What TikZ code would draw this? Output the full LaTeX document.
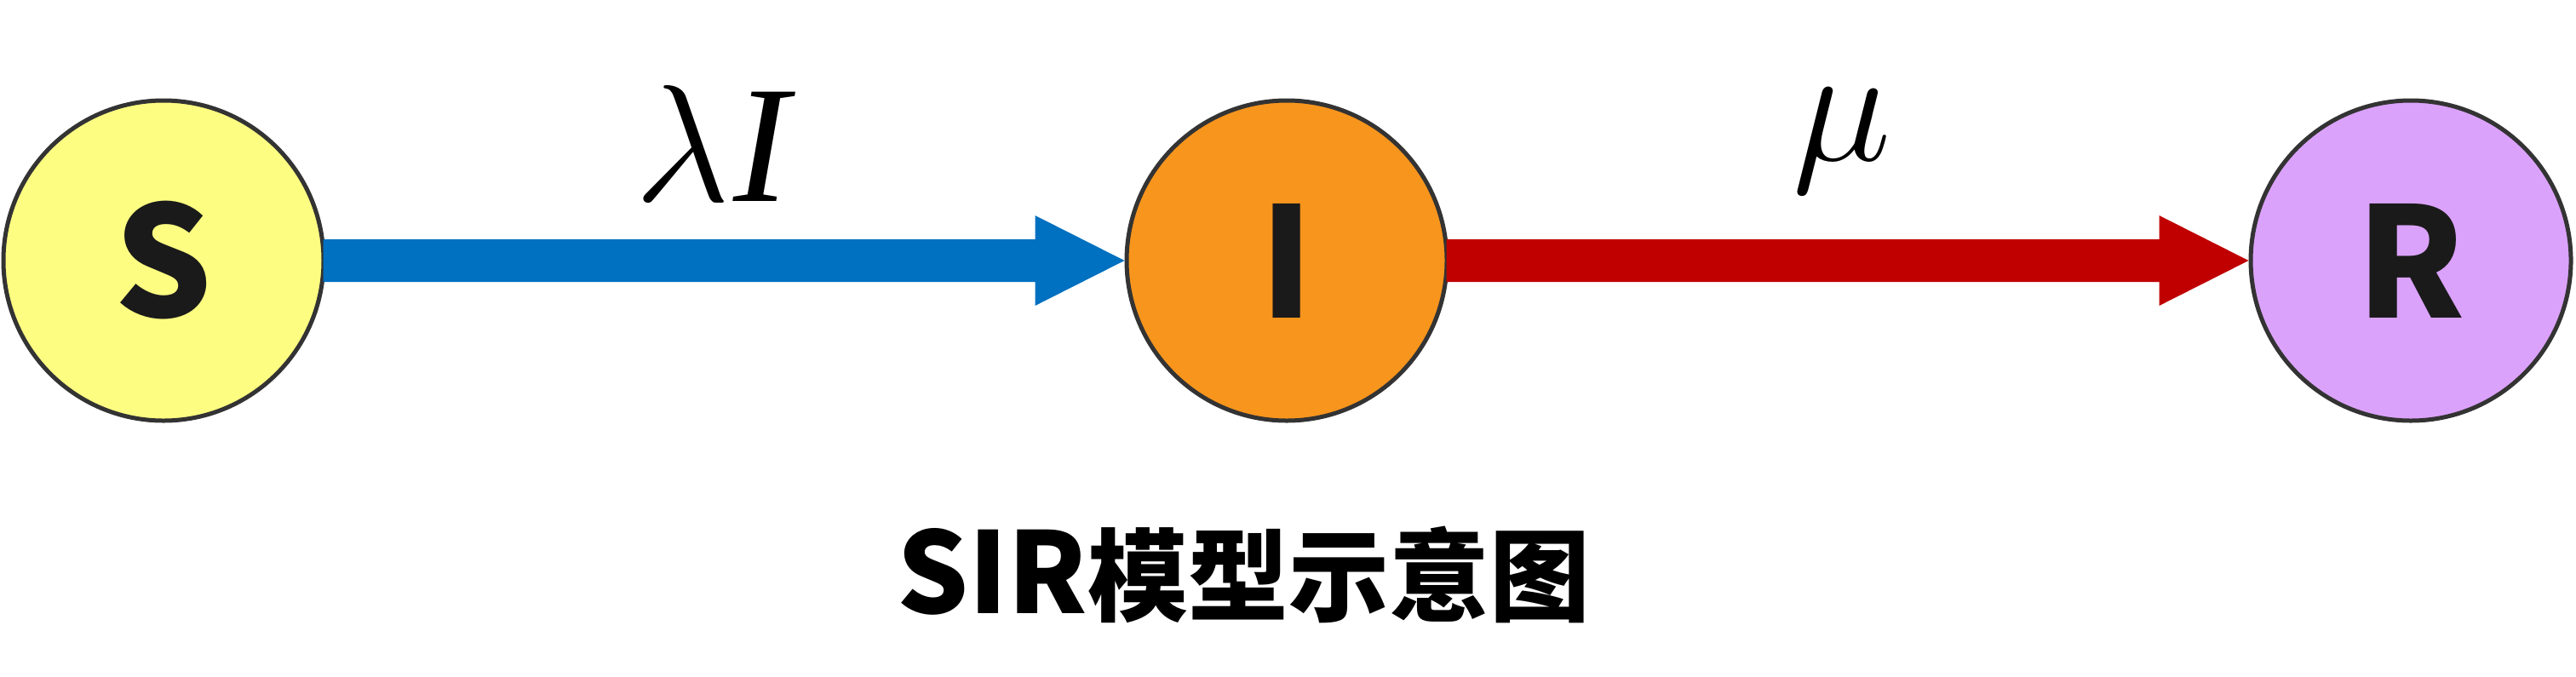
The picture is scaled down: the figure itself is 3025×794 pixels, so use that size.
\RequirePackage{fix-cm}
\documentclass[tikz,border=0pt]{standalone}
\usepackage{fontspec}
\setmainfont{Liberation Serif}
\newfontfamily\cjk{Noto Sans CJK SC}
\usetikzlibrary{calc}
\definecolor{sfill}{HTML}{FDFD82}
\definecolor{ifill}{HTML}{F8951D}
\definecolor{rfill}{HTML}{DBA2FB}
\definecolor{edgecol}{HTML}{333333}
\definecolor{arrowblue}{HTML}{0070C0}
\definecolor{arrowred}{HTML}{C00000}
\definecolor{lettercol}{HTML}{1A1A1A}
\tikzset{
  state/.style={circle, draw=edgecol, line width=1.25pt, minimum size=94pt, inner sep=0pt,
    text=lettercol, font=\cjk\bfseries\fontsize{45}{45}\selectfont},
  rate/.style={anchor=base, inner sep=0pt, font=\itshape\fontsize{49}{49}\selectfont},
}
\begin{document}
\begin{tikzpicture}[x=0.25pt,y=-0.25pt]
\useasboundingbox (0,0) rectangle (3025,794);
\node[state, fill=sfill] (S) at (192,306) {S};
\node[state, fill=ifill] (I) at (1511,306) {I};
\node[state, fill=rfill] (R) at (2831,306) {R};
\fill[arrowblue] ($(S.east)+(-3,-25)$) -- ($(I.west)+(-105,-25)$) -- ($(I.west)+(-105,-53)$) -- (I.west)
  -- ($(I.west)+(-105,53)$) -- ($(I.west)+(-105,25)$) -- ($(S.east)+(-3,25)$) -- cycle;
\fill[arrowred] ($(I.east)+(-3,-25)$) -- ($(R.west)+(-105,-25)$) -- ($(R.west)+(-105,-53)$) -- (R.west)
  -- ($(R.west)+(-105,53)$) -- ($(R.west)+(-105,25)$) -- ($(I.east)+(-3,25)$) -- cycle;
\node[rate] (lam) at (836,236) {$\lambda$\kern0.02em I};
\node[rate] (mu) at (2163,188) {$\mu$};
\node[anchor=base, inner sep=0pt, font=\cjk\bfseries] (title) at (1460,720)
  {\fontsize{33}{32}\selectfont SIR\fontsize{29.5}{32}\selectfont 模型示意图};
\end{tikzpicture}
\end{document}
